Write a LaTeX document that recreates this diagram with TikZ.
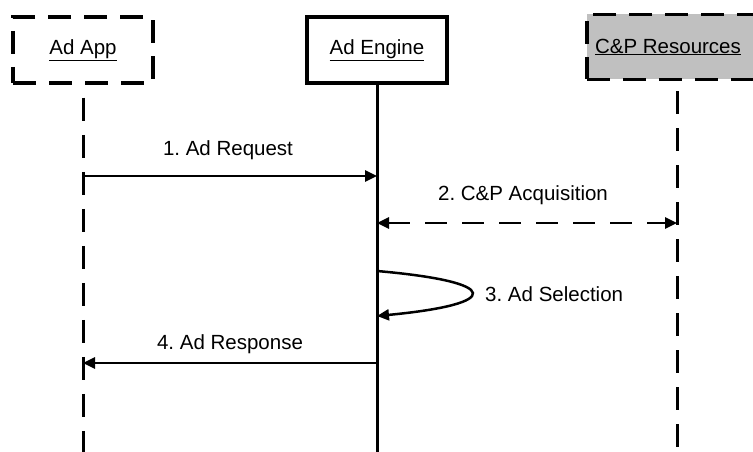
\documentclass[tikz,border=0pt]{standalone}
\usepackage{fontspec}
\setmainfont{Liberation Sans}
\usetikzlibrary{arrows.meta}
\frenchspacing
\tikzset{
  obj/.style={draw=black, line width=3.5pt, minimum width=140pt, minimum height=66pt, inner sep=0pt, font=\fontsize{20.5}{24}\selectfont},
  dashobj/.style={obj, dash pattern=on 23pt off 13pt},
  life/.style={line width=3pt},
  dlife/.style={life, dash pattern=on 23pt off 14pt},
  msg/.style={line width=2.5pt, -{Triangle[length=12pt,width=11pt]}},
  lbl/.style={font=\fontsize{20.5}{24}\selectfont, inner sep=0pt},
}
\begin{document}
\begin{tikzpicture}[x=1pt,y=-1pt]
\useasboundingbox (0,0) rectangle (753,452);
\clip (0,0) rectangle (753,452);
\node[dashobj] (app) at (83,50) {\underline{Ad App}};
\node[obj] (eng) at (377,50) {\underline{Ad Engine}};
\node[dashobj, fill={rgb,255:red,192;green,192;blue,192}, minimum width=180pt, minimum height=65pt] (cp) at (677,47) {\hspace*{-18pt}\underline{C\&P Resources}};
\coordinate (appb) at (83,452);
\coordinate (engb) at (377,452);
\coordinate (cpb) at (677,452);
\draw[dlife, dash phase=-13pt] (app.south) -- (appb);
\draw[life] (eng.south) -- (engb);
\draw[dlife, dash phase=-10pt] (cp.south) -- (cpb);
% 1
\coordinate (m1s) at (83,176);
\coordinate (m1e) at (377,176);
\draw[msg] (m1s) -- (m1e);
\node[lbl] (l1) at (228,150) {1. Ad Request};
% 2
\coordinate (m2s) at (377,223);
\coordinate (m2e) at (677,223);
\draw[msg, {Triangle[length=12pt,width=11pt]}-{Triangle[length=12pt,width=11pt]}, dash pattern=on 22pt off 15pt] (m2s) -- (m2e);
\node[lbl] (l2) at (523,195) {2. C\&P Acquisition};
% 3
\coordinate (m3s) at (377,271);
\coordinate (m3e) at (377,316);
\draw[msg] (m3s) .. controls (503,282) and (503,304) .. (m3e);
\node[lbl, anchor=west] (l3) at (485,294) {3. Ad Selection};
% 4
\coordinate (m4s) at (377,363);
\coordinate (m4e) at (83,363);
\draw[msg] (m4s) -- (m4e);
\node[lbl] (l4) at (230,344) {4. Ad Response};
\end{tikzpicture}
\end{document}
